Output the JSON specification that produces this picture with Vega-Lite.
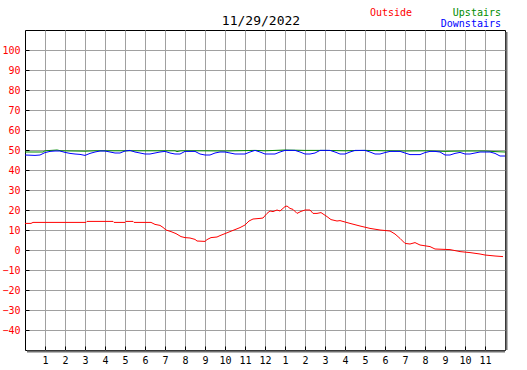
{
  "$schema": "https://vega.github.io/schema/vega-lite/v6.json",
  "width": 480,
  "height": 320,
  "autosize": "none",
  "padding": {"left": 25, "top": 30, "right": 22, "bottom": 20},
  "background": "white",
  "title": {"text": "11/29/2022", "font": "DejaVu Sans Mono", "fontSize": 13, "fontWeight": "normal", "color": "#000000", "anchor": "middle", "offset": 5, "dy": 25, "dx": -4},
  "datasets": {
    "temps": [
      {"series": "Outside", "hour": 0, "temp": 13.3},
      {"series": "Outside", "hour": 0.3, "temp": 13.3},
      {"series": "Outside", "hour": 0.4, "temp": 13.8},
      {"series": "Outside", "hour": 1, "temp": 13.8},
      {"series": "Outside", "hour": 2, "temp": 13.8},
      {"series": "Outside", "hour": 3.05, "temp": 13.8},
      {"series": "Outside", "hour": 3.1, "temp": 14.3},
      {"series": "Outside", "hour": 4.4, "temp": 14.3},
      {"series": "Outside", "hour": 4.45, "temp": 13.8},
      {"series": "Outside", "hour": 5, "temp": 13.8},
      {"series": "Outside", "hour": 5.05, "temp": 14.3},
      {"series": "Outside", "hour": 5.4, "temp": 14.3},
      {"series": "Outside", "hour": 5.45, "temp": 13.8},
      {"series": "Outside", "hour": 6.3, "temp": 13.8},
      {"series": "Outside", "hour": 6.5, "temp": 12.8},
      {"series": "Outside", "hour": 6.75, "temp": 12.3},
      {"series": "Outside", "hour": 6.9, "temp": 11.3},
      {"series": "Outside", "hour": 7.05, "temp": 10},
      {"series": "Outside", "hour": 7.3, "temp": 9.2},
      {"series": "Outside", "hour": 7.55, "temp": 8.2},
      {"series": "Outside", "hour": 7.8, "temp": 6.7},
      {"series": "Outside", "hour": 8, "temp": 6.2},
      {"series": "Outside", "hour": 8.25, "temp": 6},
      {"series": "Outside", "hour": 8.5, "temp": 5.3},
      {"series": "Outside", "hour": 8.6, "temp": 4.5},
      {"series": "Outside", "hour": 9, "temp": 4.3},
      {"series": "Outside", "hour": 9.1, "temp": 5.2},
      {"series": "Outside", "hour": 9.3, "temp": 6.2},
      {"series": "Outside", "hour": 9.6, "temp": 6.5},
      {"series": "Outside", "hour": 9.75, "temp": 7.2},
      {"series": "Outside", "hour": 10, "temp": 8.2},
      {"series": "Outside", "hour": 10.25, "temp": 9.2},
      {"series": "Outside", "hour": 10.5, "temp": 10.2},
      {"series": "Outside", "hour": 10.75, "temp": 11.2},
      {"series": "Outside", "hour": 11, "temp": 12.5},
      {"series": "Outside", "hour": 11.2, "temp": 14.5},
      {"series": "Outside", "hour": 11.4, "temp": 15.5},
      {"series": "Outside", "hour": 11.75, "temp": 15.8},
      {"series": "Outside", "hour": 11.9, "temp": 16},
      {"series": "Outside", "hour": 12.1, "temp": 18.3},
      {"series": "Outside", "hour": 12.25, "temp": 19.5},
      {"series": "Outside", "hour": 12.4, "temp": 19.2},
      {"series": "Outside", "hour": 12.6, "temp": 20},
      {"series": "Outside", "hour": 12.75, "temp": 19.5},
      {"series": "Outside", "hour": 13, "temp": 21.7},
      {"series": "Outside", "hour": 13.1, "temp": 22},
      {"series": "Outside", "hour": 13.25, "temp": 20.8},
      {"series": "Outside", "hour": 13.4, "temp": 20.3},
      {"series": "Outside", "hour": 13.6, "temp": 18.3},
      {"series": "Outside", "hour": 13.8, "temp": 19.3},
      {"series": "Outside", "hour": 14, "temp": 20},
      {"series": "Outside", "hour": 14.25, "temp": 20},
      {"series": "Outside", "hour": 14.4, "temp": 18.3},
      {"series": "Outside", "hour": 14.6, "temp": 18.3},
      {"series": "Outside", "hour": 14.8, "temp": 18.7},
      {"series": "Outside", "hour": 15.1, "temp": 16.7},
      {"series": "Outside", "hour": 15.3, "temp": 15.2},
      {"series": "Outside", "hour": 15.6, "temp": 14.5},
      {"series": "Outside", "hour": 15.75, "temp": 14.7},
      {"series": "Outside", "hour": 16.25, "temp": 13.3},
      {"series": "Outside", "hour": 16.75, "temp": 12},
      {"series": "Outside", "hour": 17.25, "temp": 10.8},
      {"series": "Outside", "hour": 17.75, "temp": 10},
      {"series": "Outside", "hour": 18.25, "temp": 9.5},
      {"series": "Outside", "hour": 18.5, "temp": 8},
      {"series": "Outside", "hour": 18.75, "temp": 5.8},
      {"series": "Outside", "hour": 19, "temp": 3.3},
      {"series": "Outside", "hour": 19.25, "temp": 3},
      {"series": "Outside", "hour": 19.5, "temp": 3.7},
      {"series": "Outside", "hour": 19.75, "temp": 2.5},
      {"series": "Outside", "hour": 20.25, "temp": 1.7},
      {"series": "Outside", "hour": 20.5, "temp": 0.5},
      {"series": "Outside", "hour": 21.25, "temp": 0.2},
      {"series": "Outside", "hour": 21.75, "temp": -0.8},
      {"series": "Outside", "hour": 22.25, "temp": -1.3},
      {"series": "Outside", "hour": 22.75, "temp": -2},
      {"series": "Outside", "hour": 23, "temp": -2.5},
      {"series": "Outside", "hour": 23.5, "temp": -3},
      {"series": "Outside", "hour": 23.9, "temp": -3.3},
      {"series": "Upstairs", "hour": 0, "temp": 49},
      {"series": "Upstairs", "hour": 0.9, "temp": 49},
      {"series": "Upstairs", "hour": 1, "temp": 49.6},
      {"series": "Upstairs", "hour": 1.6, "temp": 50},
      {"series": "Upstairs", "hour": 1.8, "temp": 49.6},
      {"series": "Upstairs", "hour": 3, "temp": 49.4},
      {"series": "Upstairs", "hour": 3.5, "temp": 49.6},
      {"series": "Upstairs", "hour": 5, "temp": 49.6},
      {"series": "Upstairs", "hour": 6, "temp": 49.6},
      {"series": "Upstairs", "hour": 7.5, "temp": 49.6},
      {"series": "Upstairs", "hour": 7.6, "temp": 49.2},
      {"series": "Upstairs", "hour": 7.8, "temp": 49.6},
      {"series": "Upstairs", "hour": 9, "temp": 49.6},
      {"series": "Upstairs", "hour": 10, "temp": 49.5},
      {"series": "Upstairs", "hour": 11.5, "temp": 49.8},
      {"series": "Upstairs", "hour": 12, "temp": 49.6},
      {"series": "Upstairs", "hour": 13, "temp": 50},
      {"series": "Upstairs", "hour": 14, "temp": 49.8},
      {"series": "Upstairs", "hour": 15, "temp": 49.8},
      {"series": "Upstairs", "hour": 16, "temp": 49.6},
      {"series": "Upstairs", "hour": 17, "temp": 49.8},
      {"series": "Upstairs", "hour": 18, "temp": 49.6},
      {"series": "Upstairs", "hour": 19, "temp": 49.5},
      {"series": "Upstairs", "hour": 20, "temp": 49.6},
      {"series": "Upstairs", "hour": 21, "temp": 49.3},
      {"series": "Upstairs", "hour": 22, "temp": 49.5},
      {"series": "Upstairs", "hour": 23, "temp": 49.5},
      {"series": "Upstairs", "hour": 23.5, "temp": 49.2},
      {"series": "Upstairs", "hour": 24, "temp": 49},
      {"series": "Downstairs", "hour": 0, "temp": 47.5},
      {"series": "Downstairs", "hour": 0.5, "temp": 47.3},
      {"series": "Downstairs", "hour": 0.75, "temp": 47.5},
      {"series": "Downstairs", "hour": 1, "temp": 48.7},
      {"series": "Downstairs", "hour": 1.25, "temp": 49.3},
      {"series": "Downstairs", "hour": 1.5, "temp": 49.5},
      {"series": "Downstairs", "hour": 1.75, "temp": 49.5},
      {"series": "Downstairs", "hour": 2, "temp": 48.8},
      {"series": "Downstairs", "hour": 2.25, "temp": 48.3},
      {"series": "Downstairs", "hour": 2.5, "temp": 48},
      {"series": "Downstairs", "hour": 2.75, "temp": 47.8},
      {"series": "Downstairs", "hour": 3, "temp": 47.3},
      {"series": "Downstairs", "hour": 3.25, "temp": 48.3},
      {"series": "Downstairs", "hour": 3.5, "temp": 49},
      {"series": "Downstairs", "hour": 3.75, "temp": 49.5},
      {"series": "Downstairs", "hour": 4, "temp": 49.5},
      {"series": "Downstairs", "hour": 4.25, "temp": 49},
      {"series": "Downstairs", "hour": 4.5, "temp": 48.5},
      {"series": "Downstairs", "hour": 4.75, "temp": 48.5},
      {"series": "Downstairs", "hour": 5, "temp": 49.5},
      {"series": "Downstairs", "hour": 5.25, "temp": 49.8},
      {"series": "Downstairs", "hour": 5.5, "temp": 49},
      {"series": "Downstairs", "hour": 5.75, "temp": 48.5},
      {"series": "Downstairs", "hour": 6, "temp": 48},
      {"series": "Downstairs", "hour": 6.25, "temp": 48},
      {"series": "Downstairs", "hour": 6.5, "temp": 48.5},
      {"series": "Downstairs", "hour": 6.75, "temp": 49},
      {"series": "Downstairs", "hour": 7, "temp": 49.3},
      {"series": "Downstairs", "hour": 7.25, "temp": 48.5},
      {"series": "Downstairs", "hour": 7.5, "temp": 48},
      {"series": "Downstairs", "hour": 7.75, "temp": 48},
      {"series": "Downstairs", "hour": 8, "temp": 49.3},
      {"series": "Downstairs", "hour": 8.5, "temp": 49.3},
      {"series": "Downstairs", "hour": 8.75, "temp": 48},
      {"series": "Downstairs", "hour": 9, "temp": 47.5},
      {"series": "Downstairs", "hour": 9.25, "temp": 47.5},
      {"series": "Downstairs", "hour": 9.5, "temp": 48.5},
      {"series": "Downstairs", "hour": 9.75, "temp": 49},
      {"series": "Downstairs", "hour": 10, "temp": 49},
      {"series": "Downstairs", "hour": 10.25, "temp": 48.5},
      {"series": "Downstairs", "hour": 10.5, "temp": 48},
      {"series": "Downstairs", "hour": 11, "temp": 48},
      {"series": "Downstairs", "hour": 11.25, "temp": 49},
      {"series": "Downstairs", "hour": 11.5, "temp": 49.8},
      {"series": "Downstairs", "hour": 11.75, "temp": 49},
      {"series": "Downstairs", "hour": 12, "temp": 48},
      {"series": "Downstairs", "hour": 12.5, "temp": 48},
      {"series": "Downstairs", "hour": 12.75, "temp": 49},
      {"series": "Downstairs", "hour": 13, "temp": 49.8},
      {"series": "Downstairs", "hour": 13.5, "temp": 49.8},
      {"series": "Downstairs", "hour": 13.75, "temp": 49},
      {"series": "Downstairs", "hour": 14, "temp": 48},
      {"series": "Downstairs", "hour": 14.25, "temp": 48},
      {"series": "Downstairs", "hour": 14.5, "temp": 48.5},
      {"series": "Downstairs", "hour": 14.75, "temp": 49.8},
      {"series": "Downstairs", "hour": 15.25, "temp": 49.8},
      {"series": "Downstairs", "hour": 15.5, "temp": 49},
      {"series": "Downstairs", "hour": 15.75, "temp": 48},
      {"series": "Downstairs", "hour": 16, "temp": 48},
      {"series": "Downstairs", "hour": 16.25, "temp": 49},
      {"series": "Downstairs", "hour": 16.5, "temp": 49.8},
      {"series": "Downstairs", "hour": 17, "temp": 49.8},
      {"series": "Downstairs", "hour": 17.25, "temp": 49},
      {"series": "Downstairs", "hour": 17.5, "temp": 48},
      {"series": "Downstairs", "hour": 17.75, "temp": 48},
      {"series": "Downstairs", "hour": 18, "temp": 48.7},
      {"series": "Downstairs", "hour": 18.25, "temp": 49.3},
      {"series": "Downstairs", "hour": 18.75, "temp": 49.3},
      {"series": "Downstairs", "hour": 19, "temp": 48.5},
      {"series": "Downstairs", "hour": 19.25, "temp": 47.7},
      {"series": "Downstairs", "hour": 19.75, "temp": 47.7},
      {"series": "Downstairs", "hour": 20, "temp": 48.7},
      {"series": "Downstairs", "hour": 20.25, "temp": 49.3},
      {"series": "Downstairs", "hour": 20.5, "temp": 49.3},
      {"series": "Downstairs", "hour": 20.75, "temp": 49},
      {"series": "Downstairs", "hour": 21, "temp": 47.5},
      {"series": "Downstairs", "hour": 21.25, "temp": 47.5},
      {"series": "Downstairs", "hour": 21.5, "temp": 48.3},
      {"series": "Downstairs", "hour": 21.75, "temp": 48.8},
      {"series": "Downstairs", "hour": 22, "temp": 48},
      {"series": "Downstairs", "hour": 22.25, "temp": 48},
      {"series": "Downstairs", "hour": 22.5, "temp": 48.5},
      {"series": "Downstairs", "hour": 22.75, "temp": 49},
      {"series": "Downstairs", "hour": 23.25, "temp": 49},
      {"series": "Downstairs", "hour": 23.5, "temp": 48.3},
      {"series": "Downstairs", "hour": 23.75, "temp": 47},
      {"series": "Downstairs", "hour": 24, "temp": 47}
    ]
  },
  "data": {"name": "temps"},
  "layer": [
    {
      "transform": [{"filter": "datum.series == 'Outside'"}],
      "mark": {"type": "line", "strokeWidth": 1, "interpolate": "linear"},
      "encoding": {
        "x": {"field": "hour", "type": "quantitative", "title": null,
              "scale": {"domain": [0, 24], "nice": false, "zero": false},
              "axis": {"values": [1,2,3,4,5,6,7,8,9,10,11,12,13,14,15,16,17,18,19,20,21,22,23],
                       "tickCount": 30, "labelOverlap": false,
                       "labelExpr": "datum.value % 12 == 0 ? '12' : '' + (datum.value % 12)"}},
        "y": {"field": "temp", "type": "quantitative", "title": null,
              "scale": {"domain": [-50, 110], "nice": false, "zero": false},
              "axis": {"values": [-40,-30,-20,-10,0,10,20,30,40,50,60,70,80,90,100],
                       "tickCount": 30, "labelOverlap": false}},
        "stroke": {"field": "series", "type": "nominal",
                   "scale": {"domain": ["Outside"], "range": ["#ff0000"]},
                   "legend": {"orient": "none", "legendX": 335, "legendY": -22, "title": null,
                              "labelColor": "#ff0000", "labelAlign": "left"}}
      }
    },
    {
      "transform": [{"filter": "datum.series != 'Outside'"}],
      "mark": {"type": "line", "strokeWidth": 1, "interpolate": "linear"},
      "encoding": {
        "x": {"field": "hour", "type": "quantitative", "title": null,
              "axis": {"values": [1,2,3,4,5,6,7,8,9,10,11,12,13,14,15,16,17,18,19,20,21,22,23],
                       "tickCount": 30, "labelOverlap": false,
                       "labelExpr": "datum.value % 12 == 0 ? '12' : '' + (datum.value % 12)"}},
        "y": {"field": "temp", "type": "quantitative", "title": null,
              "axis": {"values": [-40,-30,-20,-10,0,10,20,30,40,50,60,70,80,90,100],
                       "tickCount": 30, "labelOverlap": false}},
        "color": {"field": "series", "type": "nominal",
                  "scale": {"domain": ["Upstairs", "Downstairs"], "range": ["#008c00", "#0000ff"]},
                  "legend": {"orient": "none", "legendX": 466, "legendY": -22, "title": null,
                             "labelAlign": "right", "direction": "vertical", "rowPadding": 1,
                             "encode": {"labels": {"update": {"fill": {"scale": "color", "field": "value"}}}}}}
      }
    },
    {
      "data": {"values": [{}]},
      "mark": {"type": "rule", "color": "#707070", "strokeWidth": 2, "xOffset": 1.5, "yOffset": 2},
      "encoding": {"x": {"datum": 24}, "y": {"datum": 110}, "y2": {"datum": -50}}
    },
    {
      "data": {"values": [{}]},
      "mark": {"type": "rule", "color": "#707070", "strokeWidth": 2, "xOffset": 2, "yOffset": 1.5},
      "encoding": {"x": {"datum": 0}, "x2": {"datum": 24}, "y": {"datum": -50}}
    }
  ],
  "config": {
    "view": {"stroke": "#000000", "strokeWidth": 1},
    "axis": {
      "domain": false,
      "grid": true,
      "gridColor": "#a0a0a0",
      "gridOpacity": 1,
      "gridWidth": 1,
      "ticks": true,
      "tickColor": "#000000",
      "tickSize": -4,
      "tickWidth": 1,
      "labelFont": "DejaVu Sans Mono",
      "labelFontSize": 10,
      "labelOverlap": false
    },
    "axisX": {"labelColor": "#000000", "labelPadding": 9, "labelBaseline": "top"},
    "axisY": {"labelColor": "#ff0000", "labelPadding": 9},
    "legend": {
      "symbolSize": 0,
      "symbolOpacity": 0,
      "symbolStrokeWidth": 0,
      "labelFont": "DejaVu Sans Mono",
      "labelFontSize": 10,
      "labelOffset": 0,
      "padding": 0
    }
  }
}
